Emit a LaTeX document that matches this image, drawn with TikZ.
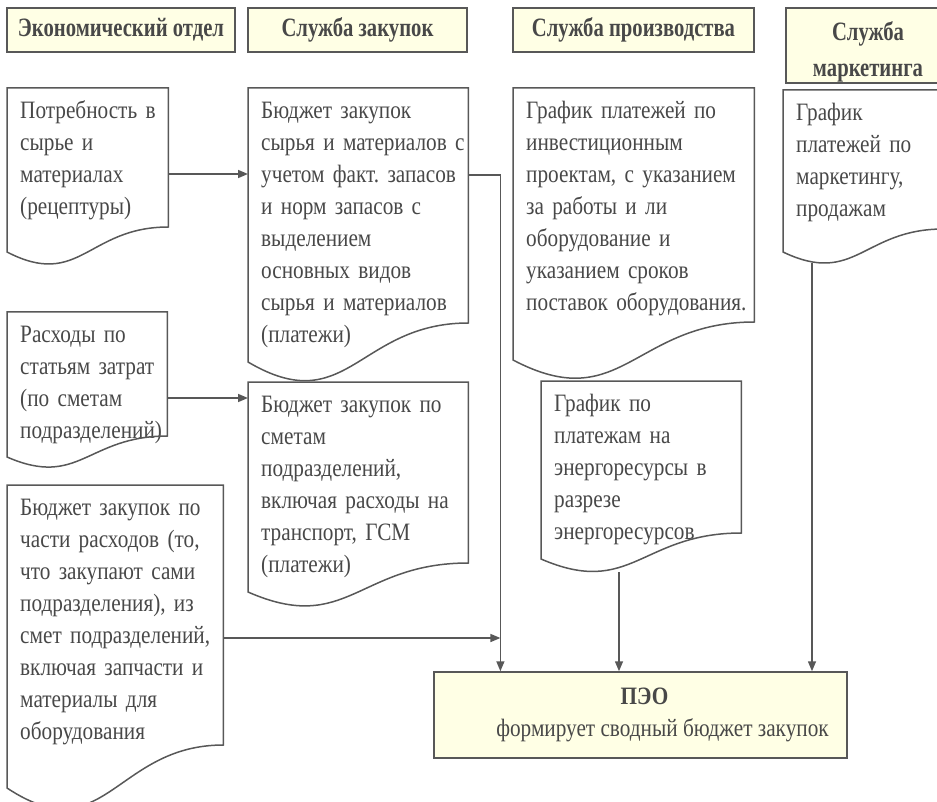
\documentclass[tikz,border=0pt]{standalone}
\usepackage{fontspec}
\setmainfont{Liberation Serif}[FakeStretch=0.85]
\newfontfamily\headfamily{Liberation Serif}[FakeStretch=0.78]
\usetikzlibrary{arrows.meta,calc}
\definecolor{ivoryfill}{RGB}{255,255,229}
\definecolor{inkgray}{RGB}{72,72,72}
\definecolor{linegray}{RGB}{88,88,88}
\newcommand{\doctext}{\fontsize{25}{32}\selectfont}
\newcommand{\headtext}{\headfamily\fontsize{26.5}{36}\selectfont\bfseries}
\hyphenpenalty=10000
% outline of a document sheet: node, height of left side, rise of the wave
\newcommand{\docshape}[3]{%
  \draw[docline] let \p1=(#1.north west), \p2=(#1.north east) in
    (\p1) -- (\p2) -- (\x2,\y1-#2pt+#3pt)
    .. controls ({0.5*(\x1+\x2)},\y1-#2pt+#3pt)
       and ({\x1+0.45*(\x2-\x1)},\y1-#2pt-1.5*#3pt) .. (\x1,\y1-#2pt) -- cycle;}

\begin{document}
\begin{tikzpicture}[
  x=1pt,y=-1pt,
  headbox/.style={draw=linegray,line width=1.5pt,fill=ivoryfill,inner sep=0pt,
    font=\headtext,text=inkgray,align=center,minimum height=44pt},
  docnote/.style={anchor=north west,inner xsep=13pt,inner ysep=8pt,align=left,
    font=\doctext,text=inkgray,execute at begin node=\strut},
  docline/.style={draw=linegray,line width=1.5pt},
  arrow/.style={-{Triangle[length=10pt,width=8pt]},line width=1.5pt,draw=linegray}
]
  \useasboundingbox (0,0) rectangle (937,802);
  \clip (0,0) rectangle (937,802);

  % column heads
  \node[headbox,minimum width=228pt] (econ) at (121,30) {Экономический отдел};
  \node[headbox,minimum width=219pt] (purch) at (357.5,30) {Служба закупок};
  \node[headbox,minimum width=241pt] (prod) at (633.5,30) {Служба производства};
  \node[headbox,minimum width=164pt,minimum height=75pt] (mkt) at (868,45.5)
    {\rule{0pt}{31pt}Служба\\маркетинга};

  % documents
  \node[docnote,text width=135pt] (need) at (7,88)
    {Потребность~в\\сырье~и\\материалах\\(рецептуры)};
  \node[docnote,text width=194pt] (rawbudget) at (248,88)
    {Бюджет~закупок\\сырья~и~материалов~с\\учетом~факт.~запасов\\и~норм~запасов~с\\выделением\\основных~видов\\сырья~и~материалов\\(платежи)};
  \node[docnote,text width=215pt] (invest) at (513,88)
    {График~платежей~по\\инвестиционным\\проектам,~с~указанием\\за~работы~и~ли\\оборудование~и\\указанием~сроков\\поставок~оборудования.};
  \node[docnote,text width=134pt] (market) at (783,90)
    {График\\платежей~по\\маркетингу,\\продажам};
  \node[docnote,text width=134pt] (costs) at (7,312)
    {Расходы~по\\статьям~затрат\\(по~сметам\\подразделений)};
  \node[docnote,text width=194pt] (unitbudget) at (248,382)
    {Бюджет~закупок~по\\сметам\\подразделений,\\включая~расходы~на\\транспорт,~ГСМ\\(платежи)};
  \node[docnote,text width=174pt] (energy) at (541,381)
    {График~по\\платежам~на\\энергоресурсы~в\\разрезе\\энергоресурсов};
  \node[docnote,text width=190pt] (ownbudget) at (7,485)
    {Бюджет~закупок~по\\части~расходов~(то,\\что~закупают~сами\\подразделения),~из\\смет~подразделений,\\включая~запчасти~и\\материалы~для\\оборудования};

  \docshape{need}{164}{25}
  \docshape{rawbudget}{274}{39}
  \docshape{invest}{272}{38}
  \docshape{market}{162}{23}
  \docshape{costs}{145}{21}
  \docshape{unitbudget}{210}{29}
  \docshape{energy}{178}{26}
  \docshape{ownbudget}{303}{43}

  % planning department
  \node[headbox,minimum width=413pt,minimum height=86pt,font=\doctext,
    execute at begin node={\rule{0pt}{38pt}}] (peo) at (640.5,715)
    {\hspace*{8pt}\textbf{ПЭО}\\ \hspace*{44pt}формирует сводный бюджет закупок};

  % connectors
  \coordinate (need-out) at ([yshift=-86pt]need.north east);
  \draw[arrow] (need-out) -- (need-out -| rawbudget.west);
  \coordinate (costs-out) at ([yshift=-86pt]costs.north east);
  \draw[arrow] (costs-out) -- (costs-out -| unitbudget.west);

  \coordinate (raw-out) at ([yshift=-87pt]rawbudget.north east);
  \coordinate (trunk) at ([xshift=32pt]raw-out);
  \draw[arrow] (raw-out) -- (trunk) -- (trunk |- peo.north);
  \coordinate (own-out) at ([yshift=-153pt]ownbudget.north east);
  \draw[arrow] (own-out) -- (own-out -| trunk);

  \coordinate (energy-out) at ([xshift=78pt,yshift=-191pt]energy.north west);
  \draw[arrow] (energy-out) -- (energy-out |- peo.north);
  \coordinate (mkt-out) at ([xshift=29pt,yshift=-173pt]market.north west);
  \draw[arrow] (mkt-out) -- (mkt-out |- peo.north);
\end{tikzpicture}
\end{document}
